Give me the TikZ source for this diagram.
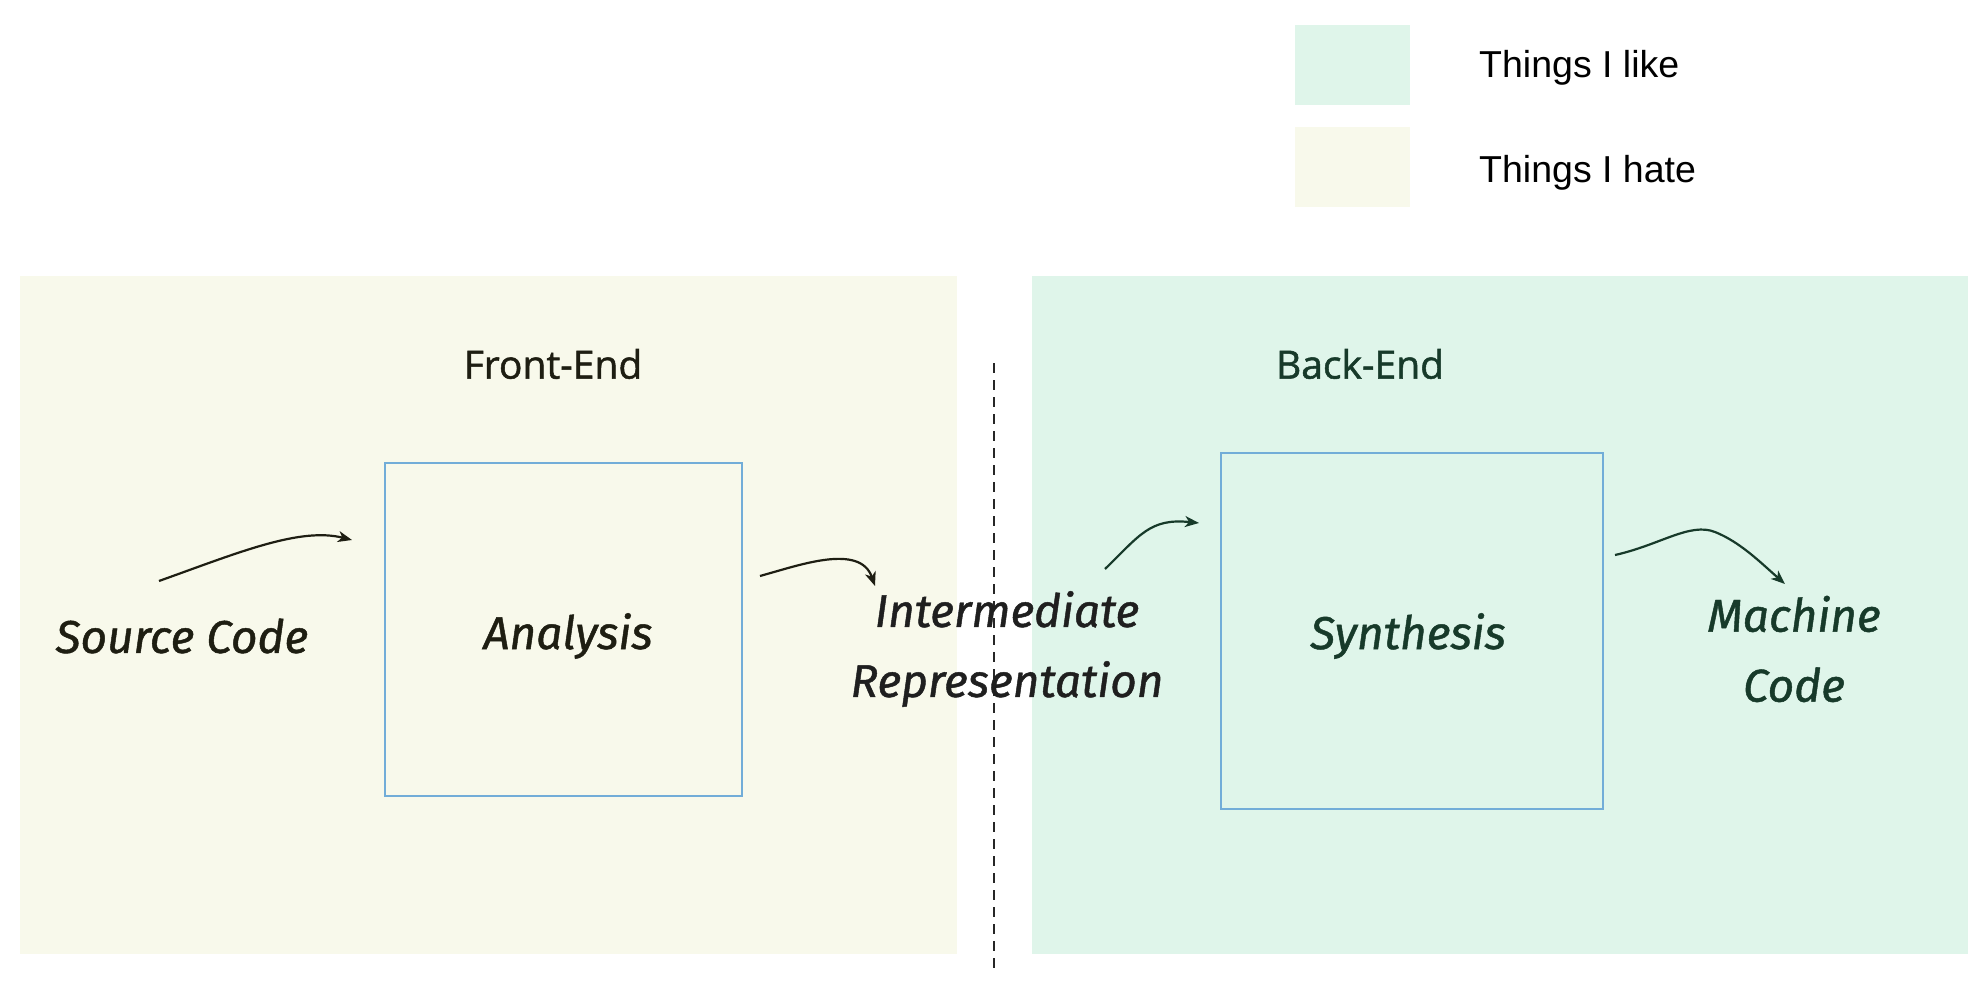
\documentclass[tikz,border=0pt]{standalone}
\usepackage{fontspec}
\setmainfont{Liberation Sans}
\newfontfamily\handfont{Fira Sans}[FakeBold=1]
\newfontfamily\labelfont{Open Sans}[FakeBold=1.3]
\usetikzlibrary{arrows.meta}
\definecolor{likegreen}{HTML}{DFF5EA}
\definecolor{hateyellow}{HTML}{F8F9EB}
\definecolor{boxblue}{HTML}{72ADD8}
\definecolor{inkdark}{HTML}{1E1E12}
\definecolor{inkgreen}{HTML}{173A2A}
\tikzset{
  swatch/.style={draw=none, minimum width=115pt, minimum height=80pt, inner sep=0pt},
  legendtext/.style={anchor=base west, font=\fontsize{37.5}{40}\selectfont, text=black, inner sep=0pt},
  panel/.style={draw=none, inner sep=0pt},
  stagebox/.style={draw=boxblue, line width=1.8pt, inner sep=0pt},
  hand/.style={font=\handfont\itshape\fontsize{46}{70}\selectfont, align=center, inner sep=0pt},
  sectitle/.style={font=\labelfont\fontsize{39}{42}\selectfont, inner sep=0pt},
  flow/.style={line width=2.2pt, -{Stealth[length=14pt,width=11pt,inset=4pt]}},
}
\begin{document}
\begin{tikzpicture}[x=1pt,y=-1pt]
\useasboundingbox (0,0) rectangle (1984,1008);
% legend
\node[swatch, fill=likegreen] (likeSw) at (1352.5,65) {};
\node[swatch, fill=hateyellow] (hateSw) at (1352.5,167) {};
\node[legendtext] (likeTx) at (1479,78) {Things I like};
\node[legendtext] (hateTx) at (1479,183) {Things I hate};
% panels
\node[panel, fill=hateyellow, minimum width=937pt, minimum height=678pt] (front) at (488.5,615) {};
\node[panel, fill=likegreen, minimum width=936pt, minimum height=678pt] (back) at (1500,615) {};
% divider
\coordinate (divTop) at (994,363);
\coordinate (divBot) at (994,972);
\draw[dashed, line width=1.8pt, dash pattern=on 10pt off 7pt, black!85] (divTop) -- (divBot);
% titles
\node[sectitle, text=inkdark] (feTitle) at (553,364) {Front-End};
\node[sectitle, text=inkgreen] (beTitle) at (1360,364) {Back-End};
% stage boxes
\node[stagebox, minimum width=357pt, minimum height=333pt] (analysis) at (563.5,629.5) {};
\node[stagebox, minimum width=382pt, minimum height=356pt] (synthesis) at (1412,631) {};
% texts
\node[hand, text=inkdark] (src) at (182,636) {Source Code};
\node[hand, text=inkdark] (anaTx) at (568,636) {Analysis};
\node[hand, text=black!88] (ir) at (1007,649) {Intermediate\\Representation};
\node[hand, text=inkgreen] (synTx) at (1408,636) {Synthesis};
\node[hand, text=inkgreen] (mc) at (1794,649) {Machine\\Code};
% arrow end points
\coordinate (a1s) at (159,581);
\coordinate (a1e) at (352,540);
\coordinate (a2s) at (760,576);
\coordinate (a2e) at (875,586);
\coordinate (a3s) at (1105,569);
\coordinate (a3e) at (1199,523);
\coordinate (a4s) at (1615,555);
\coordinate (a4e) at (1785,584);
\draw[flow, inkdark] (a1s) .. controls (240,552) and (300,527) .. (a1e);
\draw[flow, inkdark] (a2s) .. controls (800,565) and (860,543) .. (a2e);
\draw[flow, inkgreen] (a3s) .. controls (1140,535) and (1150,518) .. (a3e);
\draw[flow, inkgreen] (a4s) .. controls (1660,545) and (1690,522) .. (1715,532) .. controls (1740,542) and (1760,562) .. (a4e);
\end{tikzpicture}
\end{document}
